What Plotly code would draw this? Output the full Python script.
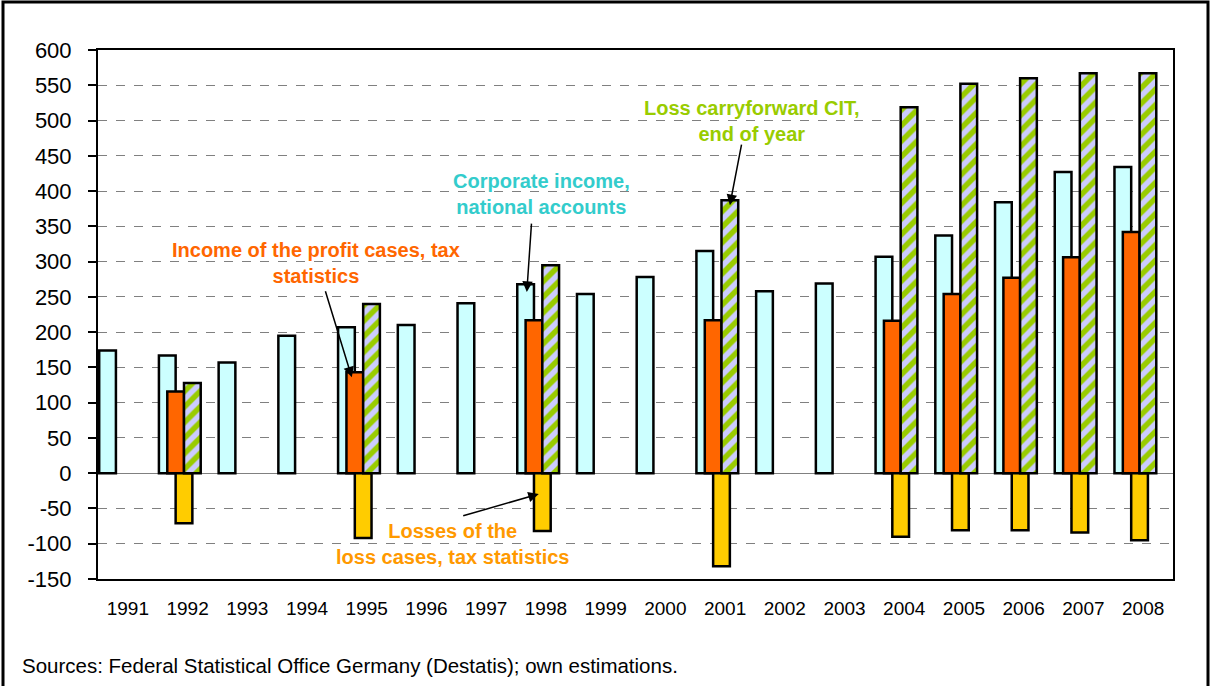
import plotly.graph_objects as go

years = list(range(1991, 2009))
year_labels = [str(y) for y in years]

y_ticks = list(range(-150, 601, 50))
y_tick_labels = [str(v) for v in y_ticks]  # plain hyphen-minus as in the original

corporate_income = [174, 167, 157, 195, 207, 210, 241, 268, 254, 278, 315, 258, 269, 307, 337, 384, 427, 434]
profit_income = [None, 116, None, None, 143, None, None, 217, None, None, 217, None, None, 216, 254, 277, 306, 342]
losses = [None, -71, None, None, -92, None, None, -82, None, None, -132, None, None, -90, -81, -81, -84, -95]
loss_carryforward = [None, 128, None, None, 240, None, None, 295, None, None, 387, None, None, 519, 552, 560, 567, 567]

FONT = "Liberation Sans, Arial, sans-serif"
W = 0.28
line = dict(color="black", width=2.5)

fig = go.Figure()
fig.add_trace(go.Bar(x=years, y=corporate_income, width=W, offset=-0.48,
                     marker=dict(color="#CCFFFF", line=line), name="Corporate income, national accounts"))
fig.add_trace(go.Bar(x=years, y=profit_income, width=W, offset=-0.34,
                     marker=dict(color="#FF6600", line=line), name="Income of the profit cases, tax statistics"))
fig.add_trace(go.Bar(x=years, y=losses, width=W, offset=-0.20,
                     marker=dict(color="#FFCC00", line=line), name="Losses of the loss cases, tax statistics"))
fig.add_trace(go.Bar(x=years, y=loss_carryforward, width=W, offset=-0.06,
                     marker=dict(color="#99CC00", line=line,
                                 pattern=dict(shape="/", bgcolor="#99CC00", fgcolor="#CCCCFF",
                                              size=11, solidity=0.5, fgopacity=1)),
                     name="Loss carryforward CIT, end of year"))

fig.update_layout(
    width=1212, height=686,
    barmode="overlay",
    showlegend=False,
    paper_bgcolor="white", plot_bgcolor="white",
    margin=dict(l=98, r=39, t=50, b=107),
    font=dict(family=FONT, color="black"),
)
fig.update_xaxes(
    range=[1990.5, 2008.5], tickmode="array", tickvals=years, ticktext=year_labels,
    tickfont=dict(size=19, family=FONT), showgrid=False, showline=True, linecolor="black",
    linewidth=2, mirror=True, ticks="", ticklabelstandoff=11,
)
fig.update_yaxes(
    range=[-150, 600], tickmode="array", tickvals=y_ticks, ticktext=y_tick_labels,
    tickfont=dict(size=22, family=FONT),
    showgrid=True, gridcolor="#808080", griddash="dash", gridwidth=1,
    zeroline=True, zerolinecolor="#808080", zerolinewidth=1,
    showline=True, linecolor="black", linewidth=2, mirror=True,
    ticks="outside", ticklen=8, tickcolor="black", tickwidth=1.5, ticklabelstandoff=12,
)

bold = dict(family=FONT, size=20)
texts = [
    ("<b>Loss carryforward CIT,<br>end of year</b>", 2001.45, 499, "#99CC00"),
    ("<b>Corporate income,<br>national accounts</b>", 1997.93, 396, "#33CCCC"),
    ("<b>Income of the profit cases, tax<br>statistics</b>", 1994.15, 298, "#FF6600"),
    ("<b>Losses of the<br>loss cases, tax statistics</b>", 1996.43, -100, "#FF9900"),
]
for t, x, y, c in texts:
    fig.add_annotation(text=t, x=x, y=y, xref="x", yref="y", showarrow=False,
                       font=dict(color=c, **bold), align="center")

arrows = [
    (2001.08, 380, 2001.28, 468),
    (1997.68, 257, 1997.76, 356),
    (1994.75, 136, 1994.30, 260),
    (1997.88, -29.5, 1996.59, -61),
]
for hx, hy, tx, ty in arrows:
    fig.add_annotation(text="", x=hx, y=hy, ax=tx, ay=ty, xref="x", yref="y",
                       axref="x", ayref="y", showarrow=True, arrowhead=2,
                       arrowsize=1.4, arrowwidth=1.5, arrowcolor="black")

fig.add_annotation(text="Sources: Federal Statistical Office Germany (Destatis); own estimations.",
                   xref="paper", yref="paper", x=(20 - 98) / 1075, y=(579 - 665) / 529,
                   xanchor="left", yanchor="middle", showarrow=False,
                   font=dict(family=FONT, size=20.5, color="black"))

# outer frame
fig.add_shape(type="rect", xref="paper", yref="paper",
              x0=(3 - 98) / 1075, x1=(1208 - 98) / 1075,
              y0=(579 - 700) / 529, y1=(579 - 2) / 529,
              line=dict(color="black", width=3), fillcolor="rgba(0,0,0,0)", layer="above")

fig.write_html("out.html", config={"displayModeBar": False},
               post_script="document.body.style.margin='0';document.body.style.overflow='hidden';")
